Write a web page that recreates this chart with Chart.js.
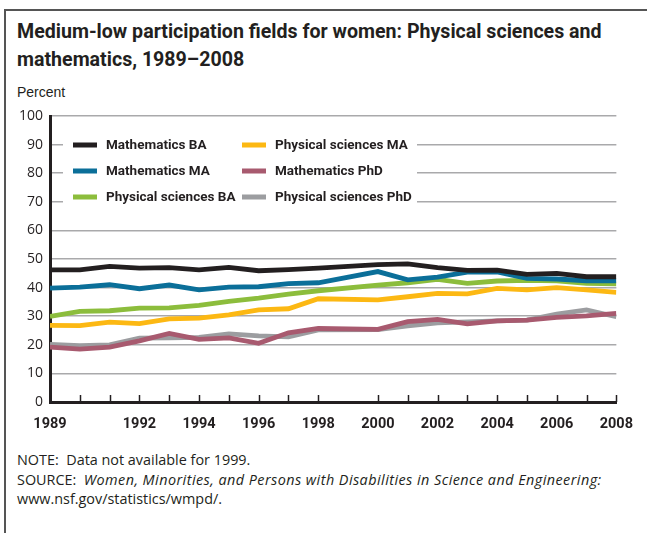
<!DOCTYPE html>
<html>
<head>
<meta charset="utf-8">
<script src="https://cdn.jsdelivr.net/npm/chart.js@4/dist/chart.umd.min.js"></script>
<style>
  html, body { margin: 0; padding: 0; background: #fff; }
  #wrap { position: relative; width: 647px; height: 533px; overflow: hidden; }
  #frame { position: absolute; left: 4px; top: 9px; width: 700px; height: 600px;
    border-left: 2px solid #555; border-top: 2px solid #555; }
  #title { position: absolute; left: 17px; top: 18px; margin: 0;
    font: 700 19.6px/28px Roboto, sans-serif; color: #231f20; white-space: nowrap; }
  #unit { position: absolute; left: 17px; top: 84px;
    font: 400 14px/16px 'Liberation Sans', sans-serif; color: #231f20; }
  #notes { position: absolute; left: 17px; top: 450px;
    font: 400 14.4px/19.5px 'Open Sans', sans-serif; color: #231f20; white-space: nowrap; }
  #notes i { letter-spacing: 0.45px; }
  canvas { position: absolute; left: 0; top: 0; }
</style>
</head>
<body>
<div id="wrap">
  <div id="frame"></div>
  <div id="title">Medium-low participation fields for women: Physical sciences and<br>mathematics, 1989–2008</div>
  <div id="unit">Percent</div>
  <div id="notes">NOTE:&nbsp; Data not available for 1999.<br>SOURCE:&nbsp; <i>Women, Minorities, and Persons with Disabilities in Science and Engineering:</i><br>www.nsf.gov/statistics/wmpd/.</div>
  <canvas id="chart" width="647" height="533"></canvas>
</div>
<script>
// no data for 1999
const years = [1989, 1990, 1991, 1992, 1993, 1994, 1995, 1996, 1997, 1998,
  2000, 2001, 2002, 2003, 2004, 2005, 2006, 2007, 2008];
const xLabelYears = [1989, 1992, 1994, 1996, 1998, 2000, 2002, 2004, 2006, 2008];

const mathBA = [46.2, 46.2, 47.4, 46.8, 47.0, 46.2, 47.1, 45.9, 46.3, 46.8,
  48.0, 48.3, 47.0, 46.0, 46.1, 44.6, 45.0, 43.8, 43.8];
const mathMA = [39.8, 40.2, 41.0, 39.6, 40.9, 39.2, 40.2, 40.3, 41.4, 41.7,
  45.6, 42.7, 43.7, 45.4, 45.5, 43.2, 43.0, 42.4, 42.4];
const physBA = [29.9, 31.7, 31.9, 32.8, 32.9, 33.8, 35.2, 36.3, 37.7, 38.9,
  40.9, 41.7, 42.9, 41.5, 42.3, 42.5, 42.4, 41.5, 41.3];
const physMA = [26.8, 26.7, 27.9, 27.4, 29.1, 29.3, 30.5, 32.2, 32.6, 36.1,
  35.7, 36.8, 38.0, 37.8, 39.7, 39.2, 40.0, 39.2, 38.3];
const mathPhD = [19.2, 18.5, 19.2, 21.4, 24.0, 21.9, 22.4, 20.5, 24.2, 25.7,
  25.4, 28.1, 28.9, 27.3, 28.4, 28.6, 29.6, 30.1, 31.0];
const physPhD = [20.1, 19.7, 20.0, 22.3, 22.4, 22.6, 23.8, 23.1, 22.8, 25.2,
  25.3, 26.6, 27.7, 28.0, 28.4, 28.6, 30.7, 32.2, 29.8];

const seriesNames = ['Mathematics BA', 'Mathematics MA', 'Physical sciences BA',
  'Physical sciences MA', 'Mathematics PhD', 'Physical sciences PhD'];
const seriesValues = [mathBA, mathMA, physBA, physMA, mathPhD, physPhD];
const seriesColors = ['#231f20', '#0b6f99', '#8cbd3c', '#fcb813', '#a85a6f', '#9c9da0'];

const INK = '#231f20';
const boldFont = 'Roboto, sans-serif';

const datasets = seriesNames.map((name, i) => ({
  label: name,
  data: years.map((yr, j) => ({ x: yr, y: seriesValues[i][j] })),
  borderColor: seriesColors[i],
  backgroundColor: seriesColors[i],
  borderWidth: 4.8,
  pointRadius: 0,
  tension: 0,
  borderJoinStyle: 'miter',
  fill: false,
}));

// short tick marks pointing up from the x axis, only where there is data
const innerTicks = {
  id: 'innerTicks',
  afterDraw(chart) {
    const { ctx, scales: { x }, chartArea } = chart;
    ctx.save();
    ctx.strokeStyle = INK;
    ctx.lineWidth = 1.5;
    years.forEach((yr) => {
      const px = Math.round(x.getPixelForValue(yr)) + 0.5;
      ctx.beginPath();
      ctx.moveTo(px, chartArea.bottom);
      ctx.lineTo(px, chartArea.bottom - 7);
      ctx.stroke();
    });
    ctx.restore();
  },
};

// legend sits inside the plot on a white box
const innerLegend = {
  id: 'innerLegend',
  afterDatasetsDraw(chart) {
    const { ctx } = chart;
    ctx.save();
    ctx.fillStyle = '#fff';
    ctx.fillRect(63, 132, 354, 80);
    const colX = [73, 242];
    const rowY = [145, 171, 197];
    ctx.font = `bold 13.5px ${boldFont}`;
    ctx.textBaseline = 'middle';
    chart.data.datasets.forEach((ds, i) => {
      const cx = colX[Math.floor(i / 3)];
      const cy = rowY[i % 3];
      ctx.fillStyle = ds.borderColor;
      ctx.fillRect(cx, cy - 2.5, 24, 5);
      ctx.fillStyle = INK;
      ctx.fillText(ds.label, cx + 33, cy + 1);
    });
    ctx.restore();
  },
};

new Chart(document.getElementById('chart'), {
  type: 'line',
  data: { datasets },
  plugins: [innerLegend, innerTicks],
  options: {
    responsive: false,
    animation: false,
    layout: { padding: { top: 116, right: 29, left: 0, bottom: 0 } },
    plugins: { legend: { display: false }, tooltip: { enabled: false } },
    scales: {
      x: {
        type: 'linear',
        min: 1989,
        max: 2008,
        afterFit: (s) => { s.height = 131; },
        grid: { display: false, drawTicks: false },
        border: { display: true, color: INK, width: 3 },
        ticks: {
          stepSize: 1,
          autoSkip: false,
          maxRotation: 0,
          padding: 14,
          color: INK,
          font: { family: boldFont, size: 14.5, weight: 'bold' },
          callback: (v) => (xLabelYears.includes(v) ? String(v) : ''),
        },
      },
      y: {
        min: 0,
        max: 100,
        afterFit: (s) => { s.width = 50; },
        grid: {
          drawTicks: false,
          lineWidth: 1.5,
          color: (c) => (c.tick && c.tick.value === 0 ? 'rgba(0,0,0,0)' : '#a9a9ab'),
        },
        border: { display: true, color: INK, width: 3 },
        ticks: {
          stepSize: 10,
          padding: 7,
          color: INK,
          font: { family: "'Open Sans', sans-serif", size: 14 },
        },
      },
    },
  },
});
</script>
</body>
</html>
